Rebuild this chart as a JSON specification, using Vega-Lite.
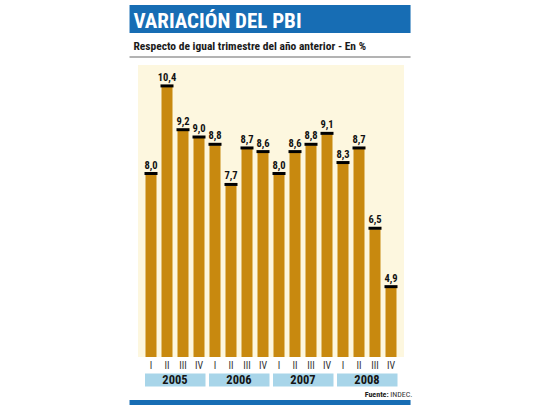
{
  "$schema": "https://vega.github.io/schema/vega-lite/v6.json",
  "width": 266,
  "height": 292,
  "autosize": {"type": "none"},
  "padding": {"left": 138, "top": 65, "right": 136, "bottom": 48},
  "background": "white",
  "data": {
    "values": [
      {"i": 0, "year": "2005", "q": "I", "v": 8.0},
      {"i": 1, "year": "2005", "q": "II", "v": 10.4},
      {"i": 2, "year": "2005", "q": "III", "v": 9.2},
      {"i": 3, "year": "2005", "q": "IV", "v": 9.0},
      {"i": 4, "year": "2006", "q": "I", "v": 8.8},
      {"i": 5, "year": "2006", "q": "II", "v": 7.7},
      {"i": 6, "year": "2006", "q": "III", "v": 8.7},
      {"i": 7, "year": "2006", "q": "IV", "v": 8.6},
      {"i": 8, "year": "2007", "q": "I", "v": 8.0},
      {"i": 9, "year": "2007", "q": "II", "v": 8.6},
      {"i": 10, "year": "2007", "q": "III", "v": 8.8},
      {"i": 11, "year": "2007", "q": "IV", "v": 9.1},
      {"i": 12, "year": "2008", "q": "I", "v": 8.3},
      {"i": 13, "year": "2008", "q": "II", "v": 8.7},
      {"i": 14, "year": "2008", "q": "III", "v": 6.5},
      {"i": 15, "year": "2008", "q": "IV", "v": 4.9}
    ]
  },
  "layer": [
    {
      "mark": {"type": "bar", "width": 11, "color": "#c8890f"},
      "encoding": {
        "x": {
          "field": "i", "type": "quantitative",
          "scale": {"domain": [-0.5, 15.5], "nice": false, "zero": false},
          "axis": {"values": [-0.5, 3.5, 7.5, 11.5, 15.5], "labels": false, "ticks": false, "domain": false, "title": null, "grid": true, "gridDash": [2, 2], "gridColor": "#9a9a9a", "gridWidth": 1}
        },
        "y": {
          "field": "v", "type": "quantitative",
          "scale": {"domain": [3, 11], "nice": false, "zero": false},
          "axis": {"values": [4, 5, 6, 7, 8, 9, 10, 11], "labels": false, "ticks": false, "domain": false, "title": null, "grid": true, "gridColor": "#b5b5b5", "gridWidth": 1}
        },
        "y2": {"datum": 3}
      }
    },
    {
      "mark": {"type": "rule", "color": "black", "strokeWidth": 3, "xOffset": -6.5, "x2Offset": 6.5, "yOffset": -1},
      "encoding": {
        "x": {"field": "i", "type": "quantitative", "axis": null},
        "x2": {"field": "i"},
        "y": {"field": "v", "type": "quantitative", "axis": null}
      }
    },
    {
      "mark": {"type": "text", "baseline": "bottom", "dy": -4, "fontSize": 10.5, "fontWeight": "bold", "font": "Roboto Condensed, Roboto, sans-serif", "color": "#111"},
      "encoding": {
        "x": {"field": "i", "type": "quantitative", "axis": null},
        "y": {"field": "v", "type": "quantitative", "axis": null},
        "text": {"field": "v", "type": "quantitative", "format": ".1f"}
      }
    },
    {
      "mark": {"type": "text", "baseline": "middle", "fontSize": 10, "font": "Roboto Condensed, Roboto, sans-serif", "color": "#333", "clip": false},
      "encoding": {
        "x": {"field": "i", "type": "quantitative", "axis": null},
        "y": {"datum": 2.75, "type": "quantitative", "axis": null},
        "text": {"field": "q", "type": "nominal"}
      }
    },
    {
      "mark": {"type": "rect", "color": "#a8d5e9", "xOffset": -6, "x2Offset": 6.5, "clip": false},
      "encoding": {
        "x": {"aggregate": "min", "field": "i", "type": "quantitative", "axis": null},
        "x2": {"aggregate": "max", "field": "i"},
        "y": {"datum": 2.548, "type": "quantitative", "axis": null},
        "y2": {"datum": 2.192},
        "detail": {"field": "year", "type": "nominal"}
      }
    },
    {
      "mark": {"type": "text", "baseline": "middle", "fontSize": 12.5, "fontWeight": "bold", "font": "Roboto Condensed, Roboto, sans-serif", "color": "#151515", "clip": false},
      "encoding": {
        "x": {"aggregate": "mean", "field": "i", "type": "quantitative", "axis": null},
        "y": {"datum": 2.37, "type": "quantitative", "axis": null},
        "text": {"field": "year", "type": "nominal"}
      }
    },
    {
      "data": {"values": [{}]},
      "mark": {"type": "rect", "color": "#176db4", "clip": false},
      "encoding": {
        "x": {"datum": -1.342, "type": "quantitative", "axis": null},
        "x2": {"datum": 16.222},
        "y": {"datum": 12.644, "type": "quantitative", "axis": null},
        "y2": {"datum": 11.877}
      }
    },
    {
      "data": {"values": [{}]},
      "mark": {"type": "text", "align": "left", "baseline": "alphabetic", "fontSize": 21, "fontWeight": "bold", "font": "Roboto Condensed, Roboto, sans-serif", "color": "white", "clip": false},
      "encoding": {
        "x": {"datum": -1.1, "type": "quantitative", "axis": null},
        "y": {"datum": 12.014, "type": "quantitative", "axis": null},
        "text": {"value": "VARIACIÓN DEL PBI"}
      }
    },
    {
      "data": {"values": [{}]},
      "mark": {"type": "text", "align": "left", "baseline": "alphabetic", "fontSize": 11.5, "fontWeight": "bold", "font": "Roboto Condensed, Roboto, sans-serif", "color": "#1a1a1a", "clip": false},
      "encoding": {
        "x": {"datum": -1.1, "type": "quantitative", "axis": null},
        "y": {"datum": 11.411, "type": "quantitative", "axis": null},
        "text": {"value": "Respecto de igual trimestre del año anterior - En %"}
      }
    },
    {
      "data": {"values": [{}]},
      "mark": {"type": "rule", "color": "#9a9a9a", "strokeWidth": 1.5, "clip": false},
      "encoding": {
        "x": {"datum": -1.342, "type": "quantitative", "axis": null},
        "x2": {"datum": 16.222},
        "y": {"datum": 11.219, "type": "quantitative", "axis": null}
      }
    },
    {
      "data": {"values": [{}]},
      "mark": {"type": "text", "align": "right", "baseline": "alphabetic", "fontSize": 8, "fontWeight": "bold", "font": "Roboto Condensed, Roboto, sans-serif", "color": "#222", "clip": false},
      "encoding": {
        "x": {"datum": 14.85, "type": "quantitative", "axis": null},
        "y": {"datum": 1.904, "type": "quantitative", "axis": null},
        "text": {"value": "Fuente:"}
      }
    },
    {
      "data": {"values": [{}]},
      "mark": {"type": "text", "align": "left", "baseline": "alphabetic", "fontSize": 8, "font": "Roboto Condensed, Roboto, sans-serif", "color": "#333", "clip": false},
      "encoding": {
        "x": {"datum": 14.95, "type": "quantitative", "axis": null},
        "y": {"datum": 1.904, "type": "quantitative", "axis": null},
        "text": {"value": "INDEC."}
      }
    },
    {
      "data": {"values": [{}]},
      "mark": {"type": "rect", "color": "#176db4", "clip": false},
      "encoding": {
        "x": {"datum": -1.342, "type": "quantitative", "axis": null},
        "x2": {"datum": 16.222},
        "y": {"datum": 1.822, "type": "quantitative", "axis": null},
        "y2": {"datum": 1.6}
      }
    }
  ],
  "config": {
    "view": {"stroke": null, "fill": "#fdf7df"},
    "locale": {"number": {"decimal": ",", "thousands": ".", "grouping": [3], "currency": ["$", ""]}}
  }
}
